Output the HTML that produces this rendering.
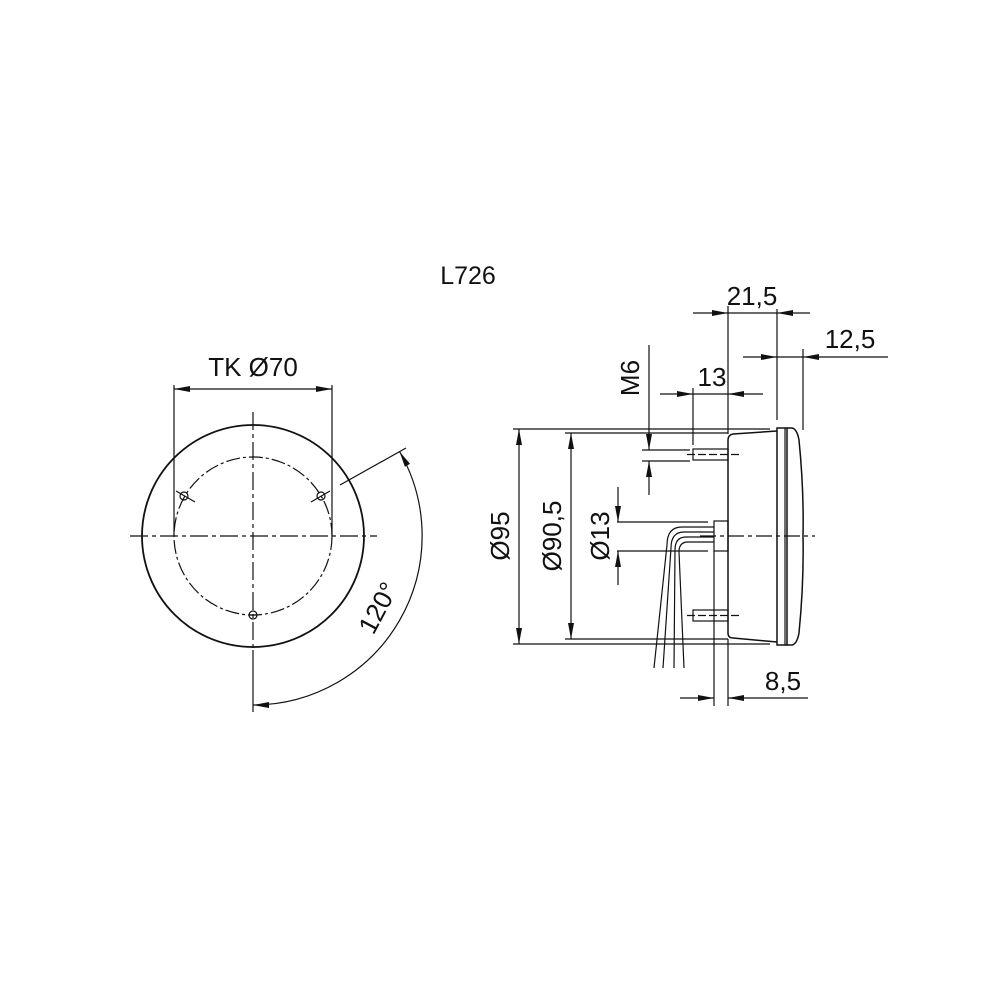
<!DOCTYPE html>
<html><head><meta charset="utf-8"><style>
html,body{margin:0;padding:0;background:#fff}
svg{display:block}
text{font-family:"Liberation Sans",Arial,sans-serif;fill:#111}
</style></head><body>
<svg width="1000" height="1000" viewBox="0 0 1000 1000" xmlns="http://www.w3.org/2000/svg">
<defs>
<marker id="a" viewBox="0 0 16 6" refX="16" refY="3" markerWidth="16" markerHeight="6" markerUnits="userSpaceOnUse" orient="auto-start-reverse">
<path d="M0,0 L16,3 L0,6 Z" fill="#111"/></marker>
</defs>
<g stroke="#111" fill="none" stroke-width="1.2">
<text x="468" y="284" font-size="25" text-anchor="middle" stroke="none">L726</text>

<!-- LEFT VIEW -->
<circle cx="253" cy="536" r="111" stroke-width="1.8"/>
<circle cx="253" cy="536" r="79" stroke-dasharray="14,3,3,3"/>
<line x1="130" y1="536" x2="377" y2="536" stroke-dasharray="18,4,4,4"/>
<line x1="253" y1="412" x2="253" y2="650" stroke-dasharray="18,4,4,4"/>
<line x1="253" y1="650" x2="253" y2="712"/>
<circle cx="184" cy="496" r="4"/><line x1="176" y1="491" x2="195" y2="502"/>
<circle cx="321" cy="496" r="4"/><line x1="311" y1="502" x2="330" y2="491"/>
<circle cx="253" cy="615" r="4"/><line x1="249" y1="615" x2="257" y2="615"/>
<line x1="174" y1="385" x2="174" y2="536"/>
<line x1="332" y1="385" x2="332" y2="536"/>
<line x1="174" y1="389" x2="332" y2="389" marker-start="url(#a)" marker-end="url(#a)"/>
<text x="253" y="376" font-size="26" text-anchor="middle" stroke="none">TK Ø70</text>
<line x1="340" y1="485" x2="406" y2="448"/>
<path d="M399.5,451.5 A169,169 0 0 1 253,705" marker-start="url(#a)" marker-end="url(#a)"/>
<text transform="translate(386,612) rotate(-62)" font-size="26" text-anchor="middle" stroke="none">120°</text>

<!-- RIGHT VIEW -->
<path d="M777,428 L787,428 L787,645 L777,645 Z" stroke-width="1.5"/>
<line x1="785" y1="428" x2="785" y2="645"/>
<path d="M787,428 L792,428 Q797,429 799,440 Q804,490 803,536 Q804,582 799,633 Q797,644 792,645 L787,645" stroke-width="1.5"/>
<path d="M777,431 L733,434 Q728,435 728,440 L728,633 Q728,638 733,638 L777,642" stroke-width="1.5"/>
<rect x="693" y="449" width="35" height="11"/>
<rect x="693" y="610" width="35" height="11"/>
<line x1="687" y1="454.5" x2="740" y2="454.5" stroke-dasharray="8,3"/>
<line x1="687" y1="615.5" x2="740" y2="615.5" stroke-dasharray="8,3"/>
<rect x="714" y="521" width="14" height="30"/>
<line x1="700" y1="536" x2="815" y2="536" stroke-dasharray="16,4,4,4"/>
<path d="M714,527 L682,527 Q667,527 667,545 L654,668"/>
<path d="M714,532 L684,532 Q671,532 671,548 L663,668"/>
<path d="M714,537 L686,537 Q675,537 675,550 L674,668"/>
<path d="M714,542 L688,542 Q679,542 679,552 L684,668"/>
<!-- Ø95 -->
<line x1="513" y1="429" x2="770" y2="429"/>
<line x1="513" y1="644" x2="770" y2="644"/>
<line x1="519" y1="429" x2="519" y2="644" marker-start="url(#a)" marker-end="url(#a)"/>
<text transform="translate(509,536) rotate(-90)" font-size="26" text-anchor="middle" stroke="none">Ø95</text>
<!-- Ø90,5 -->
<line x1="565" y1="433" x2="728" y2="433"/>
<line x1="565" y1="639" x2="728" y2="639"/>
<line x1="571" y1="433" x2="571" y2="639" marker-start="url(#a)" marker-end="url(#a)"/>
<text transform="translate(561,536) rotate(-90)" font-size="26" text-anchor="middle" stroke="none">Ø90,5</text>
<!-- Ø13 -->
<line x1="617" y1="522" x2="708" y2="522"/>
<line x1="617" y1="551" x2="708" y2="551"/>
<line x1="618" y1="487" x2="618" y2="522" marker-end="url(#a)"/>
<line x1="618" y1="585" x2="618" y2="551" marker-end="url(#a)"/>
<text transform="translate(609,536) rotate(-90)" font-size="26" text-anchor="middle" stroke="none">Ø13</text>
<!-- M6 -->
<line x1="642" y1="450" x2="690" y2="450"/>
<line x1="642" y1="461" x2="690" y2="461"/>
<line x1="649" y1="345" x2="649" y2="450" marker-end="url(#a)"/>
<line x1="649" y1="495" x2="649" y2="461" marker-end="url(#a)"/>
<text transform="translate(639,378) rotate(-90)" font-size="26" text-anchor="middle" stroke="none">M6</text>
<!-- 13 -->
<line x1="693" y1="388" x2="693" y2="445"/>
<line x1="728" y1="306" x2="728" y2="434"/>
<line x1="660" y1="394" x2="693" y2="394" marker-end="url(#a)"/>
<line x1="763" y1="394" x2="728" y2="394" marker-end="url(#a)"/>
<line x1="693" y1="394" x2="728" y2="394"/>
<text x="712" y="386" font-size="26" text-anchor="middle" stroke="none">13</text>
<!-- 21,5 -->
<line x1="777" y1="309" x2="777" y2="420"/>
<line x1="693" y1="313" x2="728" y2="313" marker-end="url(#a)"/>
<line x1="810" y1="313" x2="777" y2="313" marker-end="url(#a)"/>
<line x1="728" y1="313" x2="777" y2="313"/>
<text x="752" y="305" font-size="26" text-anchor="middle" stroke="none">21,5</text>
<!-- 12,5 -->
<line x1="803" y1="349" x2="803" y2="430"/>
<line x1="743" y1="357" x2="777" y2="357" marker-end="url(#a)"/>
<line x1="888" y1="357" x2="803" y2="357" marker-end="url(#a)"/>
<line x1="777" y1="357" x2="803" y2="357"/>
<text x="850" y="348" font-size="26" text-anchor="middle" stroke="none">12,5</text>
<!-- 8,5 -->
<line x1="714" y1="551" x2="714" y2="706"/>
<line x1="728" y1="639" x2="728" y2="706"/>
<line x1="680" y1="698" x2="714" y2="698" marker-end="url(#a)"/>
<line x1="808" y1="698" x2="728" y2="698" marker-end="url(#a)"/>
<text x="783" y="690" font-size="26" text-anchor="middle" stroke="none">8,5</text>
</g>
</svg>
</body></html>
